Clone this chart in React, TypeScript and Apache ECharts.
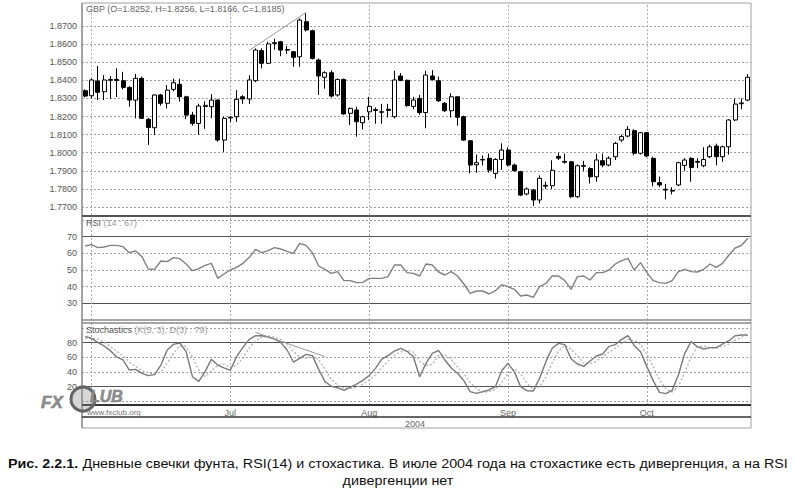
import React, { useEffect, useRef } from "react";
import * as echarts from "echarts";

// ---- data (GBP daily, 2004-05-31 .. 2004-10-25) ----
const startDate = "2004-05-31";
const barCount = 106;
const monthNames = ["Jan","Feb","Mar","Apr","May","Jun","Jul","Aug","Sep","Oct","Nov","Dec"];
const labelledMonths = ["Jul", "Aug", "Sep", "Oct"];

const opens = [
  1.8343,1.8315,1.8396,1.8337,1.8400,1.8405,1.8398,1.8361,1.8291,1.8411,
  1.8185,1.8138,1.8319,1.8273,1.8350,1.8378,1.8309,1.8208,1.8162,1.8255,
  1.8254,1.8291,1.8070,1.8192,1.8199,1.8309,1.8297,1.8398,1.8564,1.8494,
  1.8603,1.8613,1.8567,1.8558,1.8530,1.8724,1.8674,1.8512,1.8417,1.8442,
  1.8319,1.8405,1.8218,1.8236,1.8166,1.8226,1.8238,1.8226,1.8240,1.8199,
  1.8424,1.8400,1.8256,1.8300,1.8222,1.8424,1.8398,1.8273,1.8232,1.8309,
  1.8199,1.8066,1.7933,1.7960,1.7969,1.7886,1.7963,1.8015,1.7932,1.7895,
  1.7772,1.7794,1.7739,1.7815,1.7818,1.7980,1.7952,1.7950,1.7757,1.7925,
  1.7913,1.7867,1.7956,1.7932,1.7978,1.8070,1.8092,1.8122,1.7997,1.8111,
  1.7969,1.7835,1.7798,1.7792,1.7822,1.7930,1.7969,1.7952,1.7928,1.7978,
  1.8037,1.7978,1.8033,1.8181,1.8271,1.8291,
];
const closes = [
  1.8313,1.8402,1.8334,1.8402,1.8405,1.8400,1.8361,1.8291,1.8411,1.8190,
  1.8140,1.8319,1.8273,1.8346,1.8387,1.8309,1.8208,1.8162,1.8258,1.8262,
  1.8291,1.8070,1.8190,1.8197,1.8295,1.8297,1.8402,1.8567,1.8494,1.8601,
  1.8608,1.8567,1.8570,1.8527,1.8733,1.8678,1.8521,1.8424,1.8442,1.8313,
  1.8405,1.8214,1.8245,1.8171,1.8199,1.8256,1.8234,1.8224,1.8234,1.8402,
  1.8400,1.8260,1.8291,1.8222,1.8429,1.8405,1.8287,1.8232,1.8309,1.8196,
  1.8070,1.7932,1.7945,1.7963,1.7904,1.7963,1.8015,1.7932,1.7901,1.7766,
  1.7800,1.7739,1.7859,1.7820,1.7903,1.7970,1.7948,1.7757,1.7928,1.7929,
  1.7867,1.7960,1.7932,1.7970,1.8052,1.8089,1.8129,1.7997,1.8111,1.7982,
  1.7840,1.7822,1.7794,1.7788,1.7945,1.7960,1.7919,1.7948,1.7963,1.8033,
  1.7978,1.8033,1.8181,1.8269,1.8275,1.8417,
];
const lows = [
  1.8306,1.8300,1.8291,1.8291,1.8297,1.8308,1.8350,1.8254,1.8190,1.8188,
  1.8043,1.8098,1.8260,1.8245,1.8340,1.8282,1.8185,1.8150,1.8098,1.8132,
  1.8190,1.8061,1.8005,1.8170,1.8170,1.8270,1.8270,1.8390,1.8466,1.8490,
  1.8569,1.8533,1.8545,1.8475,1.8475,1.8670,1.8515,1.8319,1.8354,1.8305,
  1.8310,1.8210,1.8153,1.8089,1.8129,1.8180,1.8160,1.8160,1.8195,1.8190,
  1.8395,1.8255,1.8240,1.8210,1.8135,1.8398,1.8280,1.8225,1.8195,1.8150,
  1.8065,1.7886,1.7890,1.7930,1.7890,1.7857,1.7905,1.7925,1.7895,1.7760,
  1.7765,1.7706,1.7720,1.7800,1.7800,1.7960,1.7940,1.7750,1.7750,1.7900,
  1.7830,1.7840,1.7920,1.7925,1.7960,1.8060,1.8085,1.7985,1.7990,1.7975,
  1.7815,1.7810,1.7742,1.7770,1.7815,1.7900,1.7840,1.7915,1.7920,1.7970,
  1.7930,1.7950,1.7990,1.8175,1.8240,1.8285,
];
const highs = [
  1.8350,1.8410,1.8479,1.8429,1.8424,1.8466,1.8447,1.8368,1.8435,1.8420,
  1.8192,1.8322,1.8325,1.8374,1.8409,1.8409,1.8315,1.8226,1.8271,1.8284,
  1.8324,1.8295,1.8199,1.8199,1.8346,1.8318,1.8429,1.8577,1.8577,1.8613,
  1.8630,1.8618,1.8590,1.8562,1.8742,1.8770,1.8680,1.8520,1.8450,1.8455,
  1.8410,1.8410,1.8250,1.8254,1.8205,1.8309,1.8250,1.8270,1.8270,1.8453,
  1.8440,1.8405,1.8309,1.8320,1.8453,1.8457,1.8420,1.8280,1.8328,1.8312,
  1.8205,1.8070,1.7990,1.7985,1.7995,1.7970,1.8052,1.8030,1.7940,1.7900,
  1.7808,1.7800,1.7875,1.7840,1.7958,1.8000,1.7995,1.7955,1.7935,1.7955,
  1.7920,1.7995,1.7995,1.7980,1.8060,1.8100,1.8148,1.8130,1.8115,1.8115,
  1.7978,1.7868,1.7828,1.7810,1.7950,1.7970,1.7975,1.7970,1.8030,1.8045,
  1.8050,1.8040,1.8185,1.8300,1.8300,1.8435,
];
const rsi = [
  64.4,65.2,63.4,63.8,64.8,64.8,64.0,60.4,61.4,58.0,
  50.6,50.4,55.4,55.0,57.4,56.8,53.6,49.6,50.8,52.8,
  54.0,45.0,47.6,50.0,51.6,54.0,57.6,62.4,60.4,61.6,
  63.4,62.6,61.2,60.0,66.0,64.8,60.4,52.4,50.4,48.0,
  49.0,43.6,43.6,42.4,42.6,45.0,45.0,45.0,46.0,53.0,
  53.0,48.4,48.0,46.4,53.6,53.0,48.8,47.0,49.0,46.4,
  41.6,36.0,37.4,37.4,35.6,37.6,41.2,40.0,38.4,34.4,
  35.0,33.6,40.0,42.0,46.4,46.4,43.6,38.4,46.0,46.4,
  44.0,48.4,48.4,50.0,53.6,55.6,57.0,50.0,54.4,48.4,
  43.6,42.4,42.0,43.6,49.0,50.4,49.0,48.8,50.4,53.6,
  51.6,54.0,59.0,63.2,64.8,69.0,
];
const stochK = [
  88.6,85.9,80.5,75.5,69.1,60.5,56.4,42.7,43.6,38.2,
  35.0,36.4,49.5,70.0,77.7,79.5,67.7,33.6,27.3,40.5,
  57.3,49.5,45.5,42.3,61.0,73.6,84.5,89.5,89.5,87.7,
  85.0,80.0,70.0,53.6,58.6,64.0,62.3,43.6,26.8,20.5,
  18.6,15.0,19.0,23.6,28.6,35.0,45.0,57.7,62.3,68.6,
  72.3,68.2,60.9,33.6,51.8,65.5,69.5,56.4,45.5,38.2,
  28.2,13.2,10.9,13.2,15.5,20.0,41.8,51.8,40.5,20.0,
  14.5,14.1,31.4,54.1,72.3,79.0,77.3,57.7,50.9,47.7,
  55.0,61.8,64.5,75.0,77.3,84.5,89.5,75.9,67.7,47.3,
  28.2,12.3,10.5,15.0,35.9,65.5,81.4,74.5,71.4,73.2,
  73.2,78.2,82.7,89.5,90.5,90.5,
];
const stochD = [
  86.0,86.0,85.0,80.6,75.0,68.4,62.0,53.2,47.6,41.5,
  39.0,36.5,40.3,52.0,65.8,75.8,75.0,60.3,42.9,33.8,
  41.7,49.1,50.8,45.8,49.6,59.0,73.0,82.5,87.8,88.9,
  87.4,84.2,78.3,67.9,60.7,58.7,61.6,56.6,44.2,30.3,
  22.0,18.0,17.5,19.2,23.7,29.0,36.2,45.9,55.0,62.9,
  67.7,69.7,67.1,54.2,48.8,50.3,62.3,63.8,57.1,46.7,
  37.3,26.5,17.4,12.4,13.2,16.2,25.8,37.9,44.7,37.4,
  25.0,16.2,20.0,33.2,52.6,68.5,76.2,71.3,62.0,52.1,
  51.2,54.8,60.4,67.1,72.3,78.9,83.8,83.3,77.7,63.6,
  47.7,29.3,17.0,12.6,20.5,38.8,60.9,73.8,75.8,73.0,
  72.6,74.9,78.0,83.5,87.6,90.2,
];

const priceTicks = [1.77, 1.78, 1.79, 1.80, 1.81, 1.82, 1.83, 1.84, 1.85, 1.86, 1.87];
const rsiTicks = [30, 40, 50, 60, 70];
const rsiDotted = [40, 50, 60, 80];
const rsiLevels = [30, 70];
const stochTicks = [20, 40, 60, 80];
const stochDotted = [0, 40, 60, 100];
const stochLevels = [20, 80];
// divergence trend lines: [barIndex, value]
const priceTrend = [[26, 1.8565], [35, 1.8775]];
const stochTrend = [[27, 94], [38, 61]];

const captionBold = "Рис. 2.2.1.";
const captionRest = " Дневные свечки фунта, RSI(14) и стохастика. В июле 2004 года на стохастике есть дивергенция, а на RSI";
const captionLine2 = "дивергенции нет";

function tradingDays(start: string, n: number): string[] {
  const out: string[] = [];
  const d = new Date(start + "T00:00:00Z");
  while (out.length < n) {
    const wd = d.getUTCDay();
    if (wd !== 0 && wd !== 6) out.push(d.toISOString().slice(0, 10));
    d.setUTCDate(d.getUTCDate() + 1);
  }
  return out;
}

const FONT = '"Liberation Sans", Arial, sans-serif';
const CAP_FONT = '"Liberation Sans", Arial, sans-serif';
const CAP_SIZE = 13.5;
const CAP_WIDTH = 780;

export default function App() {
  const ref = useRef<HTMLDivElement>(null);
  useEffect(() => {
    if (!ref.current) return;
    const chart = echarts.init(ref.current, undefined, { renderer: "svg" });
    const cats = tradingDays(startDate, barCount);
    const monthOf = (s: string) => monthNames[parseInt(s.slice(5, 7), 10) - 1];
    const monthStarts: number[] = [];
    cats.forEach((c, i) => {
      if (i > 0 && c.slice(5, 7) !== cats[i - 1].slice(5, 7)) monthStarts.push(i);
    });
    const labelIdx = monthStarts.filter((i) => labelledMonths.includes(monthOf(cats[i])));

    // fit caption width like the reference
    let capScale = 1;
    const ctx = document.createElement("canvas").getContext("2d");
    if (ctx) {
      ctx.font = `bold ${CAP_SIZE}px ${CAP_FONT}`;
      const w1 = ctx.measureText(captionBold).width;
      ctx.font = `${CAP_SIZE}px ${CAP_FONT}`;
      const w2 = ctx.measureText(captionRest).width;
      if (w1 + w2 > 0) capScale = CAP_WIDTH / (w1 + w2);
    }

    const candles = opens.map((o, i) => [o, closes[i], lows[i], highs[i]]);

    const dotted = { color: "#a0a0a0", width: 1, type: [2, 2] as any };
    const vDotted = { color: "#a8a8a8", width: 1, type: [2, 2] as any };
    const level = { color: "#555", width: 1.2, type: "solid" as any };
    const vLines = monthStarts.map((i) => ({ xAxis: cats[i], lineStyle: vDotted }));

    const gridSeries = (idx: number, data: number[], marks: any[]) => ({
      type: "line",
      xAxisIndex: idx,
      yAxisIndex: idx,
      data,
      symbol: "none",
      silent: true,
      z: 1,
      lineStyle: { opacity: 0 },
      markLine: {
        silent: true,
        symbol: ["none", "none"],
        label: { show: false },
        z: 1,
        data: marks,
      },
    });

    const xAxisBase = (idx: number) => ({
      type: "category",
      gridIndex: idx,
      data: cats,
      boundaryGap: true,
      axisLine: { show: false },
      axisTick: { show: false },
      splitLine: { show: false },
      axisLabel: { show: false },
    });
    const yAxisBase = (idx: number, min: number, max: number, ticks: number[], fmt: (v: number) => string) => ({
      type: "value",
      gridIndex: idx,
      min,
      max,
      axisLine: { show: false },
      axisTick: { show: false },
      splitLine: { show: false },
      axisLabel: {
        customValues: ticks,
        formatter: fmt,
        fontSize: 9,
        color: "#555",
        fontFamily: FONT,
        margin: 5,
      },
    });

    const option: any = {
      animation: false,
      backgroundColor: "#fff",
      grid: [
        { left: 82, top: 3.4, width: 669, height: 211.8 },
        { left: 82, top: 216, width: 669, height: 104 },
        { left: 82, top: 322.5, width: 669, height: 82.5 },
      ],
      xAxis: [
        xAxisBase(0),
        xAxisBase(1),
        {
          ...xAxisBase(2),
          axisLabel: {
            show: true,
            interval: (i: number) => labelIdx.includes(i),
            formatter: (v: string) => monthOf(v),
            fontSize: 9,
            color: "#666",
            fontFamily: FONT,
            margin: 3,
          },
        },
      ],
      yAxis: [
        yAxisBase(0, 1.7655, 1.8825, priceTicks, (v: number) => v.toFixed(4)),
        yAxisBase(1, 20, 82.4, rsiTicks, (v: number) => String(Math.round(v))),
        yAxisBase(2, -5, 107.5, stochTicks, (v: number) => String(Math.round(v))),
      ],
      series: [
        gridSeries(0, closes, [
          ...priceTicks.map((v) => ({ yAxis: v, lineStyle: dotted })),
          ...vLines,
        ]),
        gridSeries(1, rsi, [
          ...rsiDotted.map((v) => ({ yAxis: v, lineStyle: dotted })),
          ...rsiLevels.map((v) => ({ yAxis: v, lineStyle: level })),
          ...vLines,
        ]),
        gridSeries(2, stochK, [
          ...stochDotted.map((v) => ({ yAxis: v, lineStyle: dotted })),
          ...stochLevels.map((v) => ({ yAxis: v, lineStyle: level })),
          ...vLines,
        ]),
        {
          type: "candlestick",
          name: "GBP",
          xAxisIndex: 0,
          yAxisIndex: 0,
          data: candles,
          barWidth: 4.5,
          z: 3,
          itemStyle: {
            color: "#ffffff",
            color0: "#000000",
            borderColor: "#000000",
            borderColor0: "#000000",
            borderWidth: 1,
          },
          markLine: {
            silent: true,
            symbol: ["none", "none"],
            label: { show: false },
            lineStyle: { color: "#999", width: 1, type: "solid" },
            data: [[
              { coord: [cats[priceTrend[0][0]], priceTrend[0][1]] },
              { coord: [cats[priceTrend[1][0]], priceTrend[1][1]] },
            ]],
          },
        },
        {
          type: "line",
          name: "RSI",
          xAxisIndex: 1,
          yAxisIndex: 1,
          data: rsi,
          symbol: "none",
          z: 3,
          lineStyle: { color: "#808080", width: 1.4 },
        },
        {
          type: "line",
          name: "%D",
          xAxisIndex: 2,
          yAxisIndex: 2,
          data: stochD,
          symbol: "none",
          z: 3,
          lineStyle: { color: "#b0b0b0", width: 1.3, type: [2, 2] },
        },
        {
          type: "line",
          name: "%K",
          xAxisIndex: 2,
          yAxisIndex: 2,
          data: stochK,
          symbol: "none",
          z: 4,
          lineStyle: { color: "#7a7a7a", width: 1.4 },
          markLine: {
            silent: true,
            symbol: ["none", "none"],
            label: { show: false },
            lineStyle: { color: "#999", width: 1, type: "solid" },
            data: [[
              { coord: [cats[stochTrend[0][0]], stochTrend[0][1]] },
              { coord: [cats[stochTrend[1][0]], stochTrend[1][1]] },
            ]],
          },
        },
      ],
      graphic: [
        { type: "rect", z: 10, shape: { x: 82, y: 3, width: 669, height: 425 }, style: { fill: "none", stroke: "#a0a0a0", lineWidth: 1 } },
        { type: "line", z: 10, shape: { x1: 82, y1: 3, x2: 82, y2: 428 }, style: { stroke: "#777", lineWidth: 1 } },
        { type: "line", z: 10, shape: { x1: 82, y1: 216, x2: 751, y2: 216 }, style: { stroke: "#555", lineWidth: 2 } },
        { type: "line", z: 10, shape: { x1: 82, y1: 320, x2: 751, y2: 320 }, style: { stroke: "#888", lineWidth: 1.5 } },
        { type: "line", z: 10, shape: { x1: 82, y1: 323, x2: 751, y2: 323 }, style: { stroke: "#888", lineWidth: 1.5 } },
        { type: "line", z: 10, shape: { x1: 82, y1: 405, x2: 751, y2: 405 }, style: { stroke: "#333", lineWidth: 2 } },
        { type: "line", z: 10, shape: { x1: 82, y1: 417, x2: 751, y2: 417 }, style: { stroke: "#333", lineWidth: 1.5 } },
        { type: "text", z: 11, x: 86, y: 4, style: { text: "GBP (O=1.8252, H=1.8256, L=1.8166, C=1.8185)", fontSize: 9, fill: "#666", fontFamily: FONT } },
        { type: "text", z: 11, x: 86, y: 218, style: { text: "{a|RSI} (14 : 67)", fontSize: 9, fill: "#999", fontFamily: FONT, rich: { a: { fill: "#555", fontSize: 9, fontFamily: FONT } } } },
        { type: "text", z: 11, x: 86, y: 325, style: { text: "{a|Stochastics} (K(5, 3), D(3) : 79)", fontSize: 9, fill: "#999", fontFamily: FONT, rich: { a: { fill: "#555", fontSize: 9, fontFamily: FONT } } } },
        { type: "text", z: 11, x: 405, y: 419, style: { text: "2004", fontSize: 9, fill: "#666", fontFamily: FONT } },
        // watermark
        { type: "text", z: 12, x: 41, y: 394, style: { text: "FX", fontSize: 17, fontStyle: "italic", fontWeight: "bold", fill: "#8c8c8c", stroke: "#666", lineWidth: 0.5, fontFamily: FONT } },
        { type: "circle", z: 12, shape: { cx: 83, cy: 399, r: 12 }, style: { fill: "rgba(140,140,140,0.35)", stroke: "#666", lineWidth: 3 } },
        { type: "text", z: 12, x: 90, y: 388, style: { text: "LUB", fontSize: 16, fontStyle: "italic", fontWeight: "bold", fill: "#8c8c8c", stroke: "#666", lineWidth: 0.5, fontFamily: FONT } },
        { type: "text", z: 12, x: 87, y: 408, style: { text: "www.fxclub.org", fontSize: 8, fill: "#777", fontFamily: FONT } },
        // caption
        {
          type: "text", z: 11, x: 398, y: 456, scaleX: capScale,
          style: {
            text: `{b|${captionBold}}${captionRest}`,
            align: "center",
            fontSize: CAP_SIZE,
            fill: "#111",
            fontFamily: CAP_FONT,
            rich: { b: { fontWeight: "bold", fontSize: CAP_SIZE, fill: "#111", fontFamily: CAP_FONT } },
          },
        },
        {
          type: "text", z: 11, x: 398, y: 473, scaleX: capScale,
          style: {
            text: captionLine2,
            align: "center",
            fontSize: CAP_SIZE,
            fill: "#111",
            fontFamily: CAP_FONT,
          },
        },
      ],
    };
    chart.setOption(option);
    return () => chart.dispose();
  }, []);
  return (
    <div
      ref={ref}
      style={{ position: "fixed", left: 0, top: 0, width: 794, height: 496, background: "#fff" }}
    />
  );
}
